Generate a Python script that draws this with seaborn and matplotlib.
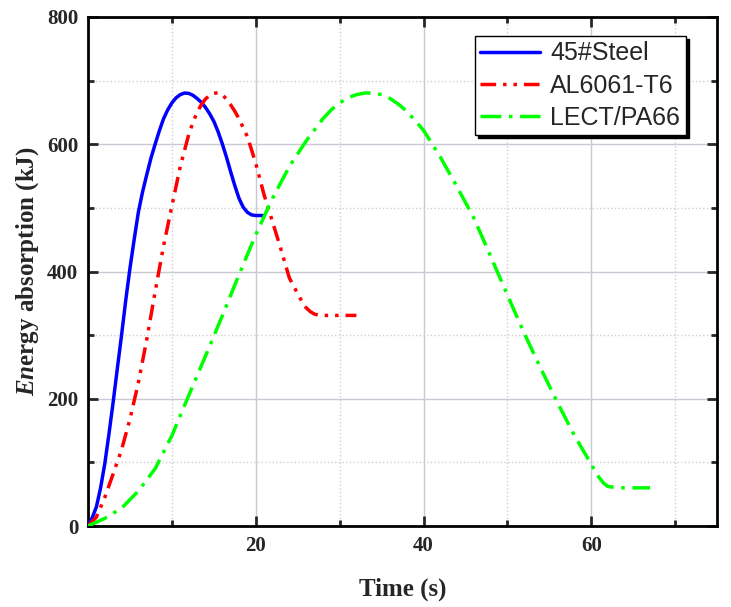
import matplotlib
matplotlib.use("Agg")
import matplotlib.pyplot as plt
from matplotlib.ticker import MultipleLocator, FixedLocator
import numpy as np
import pandas as pd
import seaborn as sns

# values
steel_t = [0, 0.5, 1, 1.5, 2, 2.5, 3, 3.5, 4, 4.5, 5, 5.5, 6, 6.5, 7, 7.5,
           8, 8.5, 9, 9.5, 10, 10.5, 11, 11.5, 12, 12.5, 13, 13.5, 14, 14.5,
           15, 15.5, 16, 16.5, 17, 17.5, 18, 18.5, 19, 19.5, 20, 21]
steel_e = [0, 13, 30, 60, 98, 145, 195, 248, 300, 355, 405, 450, 493, 525,
           552, 578, 600, 621, 640, 654, 665, 673, 678, 680.5, 680, 677, 672,
           666, 658, 648, 636, 620, 601, 580, 557, 535, 515, 501, 493, 489,
           488, 488]

al_t = [0, 1, 2, 3, 4, 5, 6, 7, 8, 9, 10, 11, 12, 12.5, 13, 13.5, 14, 14.5,
        15, 15.5, 16, 16.5, 17, 17.5, 18, 19, 20, 21, 22, 23, 24, 25, 25.5,
        26, 26.5, 27, 27.5, 28, 30, 32]
al_e = [0, 14, 45, 82, 120, 168, 225, 293, 368, 440, 503, 565, 615, 634, 650,
        662, 671, 677, 680, 681, 678, 671, 662, 652, 640, 612, 570, 520, 478,
        435, 390, 365, 353, 343, 337, 333, 331.5, 331, 331, 331]

lect_t = [0, 2, 4, 6, 8, 10, 12, 14, 16, 18, 20, 22, 24, 26, 28, 29, 30, 31,
          32, 33, 34, 35, 36, 37, 38, 40, 42, 44, 46, 48, 50, 52, 54, 56, 58,
          60, 60.5, 61, 61.5, 62, 63, 64, 67]
lect_e = [0, 12, 28, 55, 90, 142, 205, 267, 330, 395, 458, 515, 565, 605,
          640, 654, 665, 673, 678, 680.5, 680.5, 678, 672, 663, 652, 622, 580,
          533, 484, 424, 363, 303, 247, 193, 142, 97, 85, 75, 67, 62, 60.5,
          60, 60]

names = ["45#Steel", "AL6061-T6", "LECT/PA66"]
colors = ["#0000FF", "#FF0000", "#00FF00"]

df = pd.concat([
    pd.DataFrame({"Time": steel_t, "Energy": steel_e, "Material": names[0]}),
    pd.DataFrame({"Time": al_t, "Energy": al_e, "Material": names[1]}),
    pd.DataFrame({"Time": lect_t, "Energy": lect_e, "Material": names[2]}),
], ignore_index=True)

sns.set_style("ticks")
plt.rcParams["mathtext.fontset"] = "custom"
plt.rcParams["mathtext.bfit"] = "Liberation Serif:bold:italic"
plt.rcParams["mathtext.rm"] = "Liberation Serif:bold"

fig = plt.figure(figsize=(7.31, 6.07), dpi=100)
ax = fig.add_axes([0.1204, 0.1334, 0.8606, 0.8386])

sns.lineplot(data=df, x="Time", y="Energy", hue="Material", style="Material",
             palette=dict(zip(names, colors)),
             dashes={names[0]: "", names[1]: (4.5, 2, 1, 2, 1, 2),
                     names[2]: (6, 2.2, 1, 2.2)},
             linewidth=2.5, sort=False, estimator=None, ax=ax, zorder=3)

ax.set_xlim(0, 75)
ax.set_ylim(0, 800)
ax.xaxis.set_major_locator(FixedLocator([20, 40, 60]))
ax.xaxis.set_minor_locator(FixedLocator([10, 30, 50, 70]))
ax.yaxis.set_major_locator(MultipleLocator(200))
ax.yaxis.set_minor_locator(MultipleLocator(100))

ax.grid(which="major", color="#c9c9d3", linewidth=1.0, linestyle="-", zorder=0)
ax.grid(which="minor", color="#cfcfcf", linewidth=1.0, linestyle=":", zorder=0)

ax.tick_params(which="both", direction="in", top=True, right=True, width=2)
ax.tick_params(which="major", length=7, pad=7)
ax.tick_params(which="minor", length=4.5)
for sp in ax.spines.values():
    sp.set_linewidth(2)
    sp.set_color("black")

for lab in ax.get_xticklabels() + ax.get_yticklabels():
    lab.set_fontfamily("Liberation Serif")
    lab.set_fontweight("bold")
    lab.set_fontsize(15)

ax.set_xlabel("Time (s)", fontsize=18, fontweight="bold",
              fontfamily="Liberation Serif", labelpad=16)
ax.set_ylabel(r"$\mathbfit{En}$ergy absorption (kJ)", fontsize=18,
              fontweight="bold", fontfamily="Liberation Serif", labelpad=4)

handles, labels = ax.get_legend_handles_labels()
leg = ax.legend(handles, labels, loc="upper left", bbox_to_anchor=(0.615, 0.963),
                prop={"family": "Liberation Sans", "size": 18},
                frameon=True, fancybox=False, shadow={"color": "black", "alpha": 1},
                handlelength=2.4, labelspacing=0.33, borderpad=0.22,
                handletextpad=0.4, borderaxespad=0)
leg.get_frame().set_edgecolor("black")
leg.get_frame().set_linewidth(1.0)
leg.get_frame().set_alpha(1)

fig.savefig("out.png", dpi=100)
